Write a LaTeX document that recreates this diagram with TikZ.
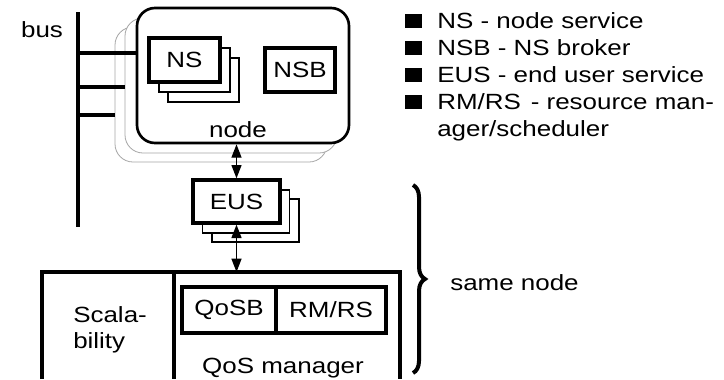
\documentclass[tikz,border=0pt]{standalone}
\usepackage{fontspec}
\setmainfont{Liberation Sans}[FakeStretch=1.18]
\usepackage{tikz}
\usetikzlibrary{arrows.meta}
\usetikzlibrary{positioning,decorations.pathreplacing}
\tikzset{
    every node/.style={font=\fontsize{16.5pt}{19.5pt}\selectfont},
    box/.style={
        draw,
        rectangle,
        line width=2.5pt,
        fill=white,
        inner sep=0pt,
        minimum width=#1,
        minimum height=33pt
    },
    copybox/.style={
        draw,
        rectangle,
        line width=0.9pt,
        fill=white,
        inner sep=0pt,
        minimum width=#1,
        minimum height=33pt
    }
}

\begin{document}
\begin{tikzpicture}[x=0.75pt, y=-0.75pt]
  \tikzset{
    nodebox/.style={
      draw,
      rectangle,
      rounded corners=13.5pt,
      fill=white,
      minimum width=159pt,
      minimum height=101.25pt
    },
    busline/.style={
      line width=2.6pt,
    },
    dblarrow/.style={
      line width=1pt,
      {Triangle[length=10pt, width=7.5pt]}-{Triangle[length=10pt, width=7.5pt]},
    },
    bigbox/.style={
      line width=2.5pt,
    },
    bullet/.style={
      fill=black,
      inner sep=0pt,
      minimum width=12.75pt,
      minimum height=10.5pt,
    },
    txt/.style={
      inner sep=0pt,
    }
  }
  \useasboundingbox (0,0) rectangle (724,379);

  % Bus
  \node[txt, anchor=base] (buslabel) at (42,37) {bus};
  \coordinate (bustop) at (78,12);
  \coordinate (busbot) at (78,227);
  \draw[busline] (bustop) -- (busbot);

  % Stacked nodes
  \node[nodebox, draw=gray!70, line width=0.6pt] (node3) at (221,94.5) {};
  \node[nodebox, draw=gray!70, line width=0.6pt] (node2) at (231,85.5) {};
  \node[nodebox, line width=2pt] (node1) at (243,75.5) {};
  \node[txt, anchor=base] (nodelabel) at (238,137) {node};

  % Bus taps
  \coordinate (tap1) at (78,53);
  \coordinate (tap2) at (78,87);
  \coordinate (tap3) at (78,115);
  \draw[busline] (tap1) -- (tap1 -| node1.west);
  \draw[busline] (tap2) -- (tap2 -| node2.west);
  \draw[busline] (tap3) -- (tap3 -| node3.west);

  % NS copies and NSB
  \node[copybox=53.25pt] (ns3) at (203.5,80) {};
  \node[copybox=53.25pt] (ns2) at (194.5,70) {};
  \node[box=53.25pt] (ns) at (184.5,60) {NS};
  \node[box=52.5pt] (nsb) at (300,70) {NSB};

  % EUS copies
  \node[copybox=65.25pt, minimum height=32.25pt] (eus3) at (255.5,220.5) {};
  \node[copybox=65.25pt, minimum height=32.25pt] (eus2) at (246,211.5) {};
  \node[box=65.25pt, minimum height=32.25pt] (eus) at (236.5,201.5) {EUS};

  % QoS block
  \coordinate (qosbl) at (42,379);
  \coordinate (qostl) at (42,272);
  \coordinate (qostr) at (400,272);
  \coordinate (qosbr) at (400,379);
  \coordinate (divtop) at (174,272);
  \coordinate (divbot) at (174,379);
  \draw[bigbox] (qosbl) -- (qostl) -- (qostr) -- (qosbr);
  \draw[bigbox] (divtop) -- (divbot);
  \node[box=70.5pt, minimum height=34.5pt] (qosb) at (229,310) {QoSB};
  \node[box=82.5pt, minimum height=34.5pt] (rmrs) at (331,310) {RM/RS};
  \node[txt, anchor=west, align=left] (scal) at (73,330) {Scala-\\bility};
  \node[txt, anchor=base] (qoslabel) at (283,373) {QoS manager};

  % Links
  \draw[dblarrow] (eus.north |- node1.south) -- (eus.north);
  \draw[dblarrow] (eus.south) -- (eus.south |- qostl);

  % Same node brace
  \coordinate (bracetop) at (413,185);
  \coordinate (bracebot) at (413,373);
  \draw[line width=3pt, decorate, decoration={brace, amplitude=9pt}] (bracetop) -- (bracebot);
  \node[txt, anchor=base west] (samenode) at (450,290) {same node};

  % Legend
  \node[bullet] (b1) at (413,20.5) {};
  \node[txt, anchor=base west] (l1) at (437,28) {NS - node service};
  \node[bullet] (b2) at (413,47.5) {};
  \node[txt, anchor=base west] (l2) at (437,55) {NSB - NS broker};
  \node[bullet] (b3) at (413,74.5) {};
  \node[txt, anchor=base west] (l3) at (437,82) {EUS - end user service};
  \node[bullet] (b4) at (413,101.5) {};
  \node[txt, anchor=base west] (l4) at (437,109) {RM/RS\hspace{0.45em}- resource man-};
  \node[txt, anchor=base west] (l5) at (437,136) {ager/scheduler};
\end{tikzpicture}
\end{document}
